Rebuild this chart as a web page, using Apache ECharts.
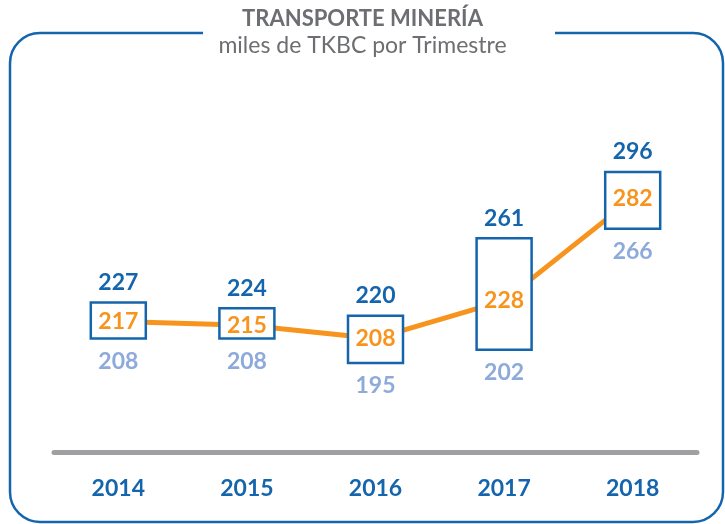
<!DOCTYPE html>
<html>
<head>
<meta charset="utf-8">
<script src="https://cdn.jsdelivr.net/npm/echarts@6/dist/echarts.min.js"></script>
<style>
  html, body { margin: 0; padding: 0; background: #fff; }
  #main { width: 725px; height: 524px; }
</style>
</head>
<body>
<div id="main"></div>
<script>
// datos
const years = ['2014', '2015', '2016', '2017', '2018'];
const maxValues = [227, 224, 220, 261, 296];
const avgValues = [217, 215, 208, 228, 282];
const minValues = [208, 208, 195, 202, 266];

const darkBlue = '#1565ad';
const lightBlue = '#8eaadb';
const orange = '#f7941d';
const font = 'Lato';

const boxData = years.map((y, i) => [i, maxValues[i], avgValues[i], minValues[i]]);

function renderBox(params, api) {
  const idx = api.value(0);
  const top = api.coord([idx, api.value(1)]);
  const mid = api.coord([idx, api.value(2)]);
  const bot = api.coord([idx, api.value(3)]);
  const w = 55;
  return {
    type: 'group',
    children: [
      {
        type: 'rect',
        shape: { x: top[0] - w / 2, y: top[1], width: w, height: bot[1] - top[1] },
        style: { fill: '#fff', stroke: darkBlue, lineWidth: 2.5 }
      },
      {
        type: 'text',
        style: {
          text: String(api.value(1)), x: top[0], y: top[1] - 20,
          align: 'center', verticalAlign: 'middle',
          fill: darkBlue, font: 'bold 23px ' + font
        }
      },
      {
        type: 'text',
        style: {
          text: String(api.value(2)), x: mid[0], y: mid[1],
          align: 'center', verticalAlign: 'middle',
          fill: orange, font: 'bold 23px ' + font
        }
      },
      {
        type: 'text',
        style: {
          text: String(api.value(3)), x: bot[0], y: bot[1] + 23,
          align: 'center', verticalAlign: 'middle',
          fill: lightBlue, font: 'bold 23px ' + font
        }
      }
    ]
  };
}

const chart = echarts.init(document.getElementById('main'));
chart.setOption({
  animation: false,
  backgroundColor: '#fff',
  title: {
    text: 'TRANSPORTE MINERÍA',
    subtext: 'miles de TKBC por Trimestre',
    left: 'center',
    top: 3,
    itemGap: 4,
    textStyle: { color: '#6d6e71', fontSize: 22, fontWeight: 'bold', fontFamily: font },
    subtextStyle: { color: '#6d6e71', fontSize: 23, fontFamily: font }
  },
  graphic: [
    {
      type: 'rect',
      z: -10,
      shape: { x: 10, y: 33, width: 713, height: 489, r: 30 },
      style: { fill: 'none', stroke: darkBlue, lineWidth: 2.5 }
    },
    {
      type: 'rect',
      z: -9,
      shape: { x: 203, y: 26, width: 352, height: 16 },
      style: { fill: '#fff' }
    }
  ],
  grid: { left: 54, right: 28, top: 100, bottom: 72 },
  xAxis: {
    type: 'category',
    data: years,
    axisLine: { lineStyle: { color: '#a0a0a2', width: 5 } },
    axisTick: { show: false },
    axisLabel: { color: darkBlue, fontSize: 23, fontWeight: 'bold', fontFamily: font, margin: 25 }
  },
  yAxis: {
    type: 'value',
    min: 148,
    max: 334,
    show: false,
    splitLine: { show: false }
  },
  series: [
    {
      type: 'line',
      data: avgValues,
      symbol: 'none',
      z: 1,
      lineStyle: { color: orange, width: 5 }
    },
    {
      type: 'custom',
      data: boxData,
      z: 3,
      renderItem: renderBox
    }
  ]
});
</script>
</body>
</html>
